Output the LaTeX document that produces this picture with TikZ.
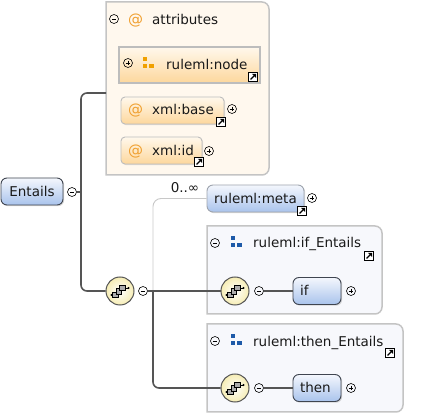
\documentclass[tikz,border=0pt]{standalone}
\usepackage{fontspec}
\setmainfont{DejaVu Sans}
\usepackage{tikz}
\usepackage{xcolor}
\usetikzlibrary{shadows}

\definecolor{elemtop}{HTML}{F4F7FD}
\definecolor{elembot}{HTML}{A9C3EC}
\definecolor{elemline}{HTML}{3F4550}
\definecolor{metaline}{HTML}{9EA4AE}
\definecolor{attrtop}{HTML}{FFF8EC}
\definecolor{attrbot}{HTML}{FDD79C}
\definecolor{attrline}{HTML}{BDBDBD}
\definecolor{attrbg}{HTML}{FFF8EE}
\definecolor{grpbg}{HTML}{F7F8FC}
\definecolor{grpline}{HTML}{C4C4C4}
\definecolor{seqfill}{HTML}{F6EDB4}
\definecolor{seqline}{HTML}{555555}
\definecolor{connline}{HTML}{555555}
\definecolor{optline}{HTML}{C8C8C8}
\definecolor{atcol}{HTML}{F0A030}
\definecolor{iconblue}{HTML}{1E5AA8}
\definecolor{iconorange}{HTML}{F0A000}

\tikzset{
  lbl/.style={font=\fontsize{13.5}{15}\selectfont, inner sep=0pt, text=black!90},
  atsign/.style={font=\fontsize{15}{15}\selectfont, inner sep=0pt, text=atcol},
  elem/.style={lbl, draw=elemline, line width=0.9pt, rounded corners=6pt,
    top color=elemtop, bottom color=elembot, minimum height=27pt,
    text height=9.5pt, text depth=0pt,
    drop shadow={shadow xshift=1.2pt, shadow yshift=-1.2pt, opacity=0.3}},
  attrbox/.style={draw=attrline, line width=0.9pt, rounded corners=4pt,
    top color=attrtop, bottom color=attrbot, minimum height=27pt, inner sep=0pt,
    drop shadow={shadow xshift=1.2pt, shadow yshift=-1.2pt, opacity=0.25}},
  seq/.style={circle, draw=seqline, line width=1pt, inner color=white,
    outer color=seqfill, minimum size=28pt, inner sep=0pt},
  minus/.style={circle, draw=black, line width=0.6pt, minimum size=9pt, inner sep=0pt,
    path picture={\draw[line width=0.7pt] ([xshift=2.2pt]path picture bounding box.west) -- ([xshift=-2.2pt]path picture bounding box.east);}},
  plus/.style={circle, draw=black, line width=0.6pt, minimum size=9pt, inner sep=0pt,
    path picture={\draw[line width=0.7pt] ([xshift=2.2pt]path picture bounding box.west) -- ([xshift=-2.2pt]path picture bounding box.east);
      \draw[line width=0.7pt] ([yshift=-2.2pt]path picture bounding box.north) -- ([yshift=2.2pt]path picture bounding box.south);}},
  conn/.style={draw=connline, line width=1.6pt, rounded corners=6pt},
  optconn/.style={draw=optline, line width=0.9pt, rounded corners=8pt},
  grp/.style={draw=grpline, line width=1.5pt},
}

% small link mark in the corner of a box
\newcommand{\linkmark}[1]{\begin{scope}[shift={#1}]
  \draw[fill=white, line width=0.7pt] (-4.5,-4.5) rectangle (4.5,4.5);
  \draw[line width=1.2pt] (-2.5,2.5) -- (1.2,-1.2);
  \fill (3,-3) -- (-0.8,-3) -- (3,0.8) -- cycle;
\end{scope}}

% sequence mark inside the yellow circle
\newcommand{\seqmark}[1]{\begin{scope}[shift={#1}]
  \draw[line width=0.6pt] (-8.5,4) -- (-6,4);
  \fill (-8.5,4) circle (1.1);
  \draw[line width=0.6pt] (4,-3) -- (8.5,-3);
  \fill (8.5,-3) circle (1.1);
  \draw[fill=gray!65, line width=0.5pt] (-7.3,0.8) rectangle ++(5.5,5.5);
  \draw[fill=gray!65, line width=0.5pt] (-3.8,-2.7) rectangle ++(5.5,5.5);
  \draw[fill=gray!65, line width=0.5pt] (-0.3,-6.2) rectangle ++(5.5,5.5);
\end{scope}}

% three squares of a group
\newcommand{\grpmark}[2]{\begin{scope}[shift={#1}]
  \fill[#2] (0,0) rectangle ++(4,4);
  \fill[#2] (0,7) rectangle ++(4,4);
  \fill[#2] (6,7.5) rectangle ++(4.5,4);
\end{scope}}

\begin{document}
\begin{tikzpicture}[x=1pt, y=-1pt]
  \useasboundingbox (0,0) rectangle (421,414);

  % Draw the groups
  \draw[grp, fill=attrbg] (106,175) -- (106,2) [rounded corners=7pt] -- (269,2) -- (269,175) [sharp corners] -- cycle;
  \draw[grp, fill=grpbg] (207,314) -- (207,226) [rounded corners=7pt] -- (382,226) -- (382,314) [sharp corners] -- cycle;
  \draw[grp, fill=grpbg] (207,412) -- (207,324) [rounded corners=7pt] -- (403,324) -- (403,412) [sharp corners] -- cycle;
  \shade[left color=attrbg, middle color=gray!30, right color=attrbg] (110,34) rectangle (233,36);
  \shade[left color=grpbg, middle color=gray!25, right color=grpbg] (212,262) rectangle (340,264);
  \shade[left color=grpbg, middle color=gray!25, right color=grpbg] (212,361) rectangle (357,363);

  % Headers of the groups
  \node[minus] (attrminus) at (114,19) {};
  \node[atsign, anchor=base west] (attrat) at (128,25) {@};
  \node[lbl, anchor=base west] (attrlbl) at (152,25) {attributes};
  \node[minus] (ifgminus) at (215,243) {};
  \grpmark{(231,236)}{iconblue}
  \node[lbl, anchor=base west] (ifglbl) at (253,248) {ruleml:if\_Entails};
  \node[minus] (thengminus) at (215,341) {};
  \grpmark{(231,334)}{iconblue}
  \node[lbl, anchor=base west] (thenglbl) at (253,347) {ruleml:then\_Entails};

  % Attributes
  \node[draw=attrline, line width=1.8pt, top color=attrtop, bottom color=attrbot,
    minimum width=141pt, minimum height=36pt] (nodebox) at (189.5,65) {};
  \node[plus] (nodeplus) at (128,63) {};
  \grpmark{(143,57)}{iconorange}
  \node[lbl, anchor=base west] (nodelbl) at (166,70) {ruleml:node};
  \node[attrbox, minimum width=103pt] (basebox) at (172.5,110.5) {};
  \node[atsign, anchor=base west] (baseat) at (128,115) {@};
  \node[lbl, anchor=base west] (baselbl) at (152,115) {xml:base};
  \node[plus] (baseplus) at (232,109) {};
  \node[attrbox, minimum width=81pt] (idbox) at (161.5,150.5) {};
  \node[atsign, anchor=base west] (idat) at (128,156) {@};
  \node[lbl, anchor=base west] (idlbl) at (152,156) {xml:id};
  \node[plus] (idplus) at (209,151) {};

  % Elements
  \node[elem, minimum width=62pt] (ent) at (32,191.5) {Entails};
  \node[minus] (entminus) at (72,192) {};
  \node[elem, draw=metaline, minimum width=97pt] (meta) at (255.5,198.5) {ruleml:meta};
  \node[plus] (metaplus) at (312,198) {};
  \node[lbl, anchor=base] (metaocc) at (185,193) {0..∞};
  \node[seq] (seqA) at (120,291) {};
  \node[minus] (seqAminus) at (143,291) {};
  \node[seq] (seqB) at (235,291) {};
  \node[minus] (seqBminus) at (259,291) {};
  \node[elem, text width=34pt, inner xsep=7pt, align=left] (ifbox) at (317,291) {if};
  \node[plus] (ifplus) at (351,291) {};
  \node[seq] (seqC) at (235,388) {};
  \node[minus] (seqCminus) at (259,388) {};
  \node[elem, text width=34pt, inner xsep=7pt, align=left] (thenbox) at (317,388) {then};
  \node[plus] (thenplus) at (351,388) {};
  \seqmark{(120,291)}
  \seqmark{(235,291)}
  \seqmark{(235,388)}

  % Connectors
  \coordinate (fork1) at (81,192);
  \coordinate (attrin) at (106,93);
  \coordinate (fork2) at (153,291);
  \draw[optconn] (fork2) |- (meta.west);
  \draw[conn, sharp corners] (entminus.east) -- (fork1);
  \draw[conn] (fork1) |- (attrin);
  \draw[conn] (fork1) |- (seqA.west);
  \draw[conn, sharp corners] (seqAminus.east) -- (fork2) -- (seqB.west);
  \draw[conn] (fork2) |- (seqC.west);
  \draw[conn] (seqBminus.east) -- (ifbox.west);
  \draw[conn] (seqCminus.east) -- (thenbox.west);

  % Link marks
  \linkmark{(253,77)}
  \linkmark{(221,122)}
  \linkmark{(199,162)}
  \linkmark{(302,211)}
  \linkmark{(369,256)}
  \linkmark{(390,353)}
\end{tikzpicture}
\end{document}
